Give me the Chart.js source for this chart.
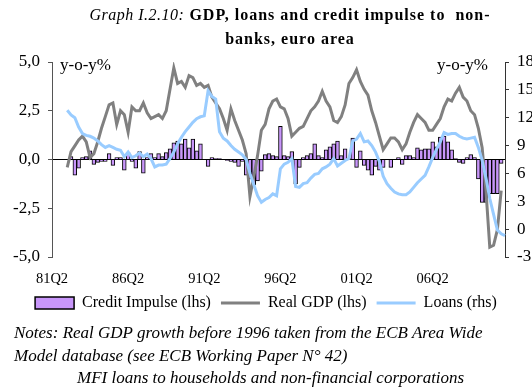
<!DOCTYPE html>
<html>
<head>
<meta charset="utf-8">
<script src="https://cdn.jsdelivr.net/npm/chart.js@4"></script>
<style>
  body { margin: 0; background: #fff; }
  #wrap { position: relative; width: 532px; height: 387px; font-family: "Liberation Serif", "Times New Roman", serif; color: #000; }
  #chart { position: absolute; left: 0; top: 0; }
  .title { position: absolute; left: 40px; top: 3px; width: 500px; text-align: center; font-size: 16px; line-height: 24px; font-weight: bold; letter-spacing: 1px; }
  .title i { font-weight: normal; letter-spacing: 0.5px; }
  .unit { position: absolute; top: 55px; font-size: 17px; }
  .notes { position: absolute; left: 14px; top: 322px; font-size: 17px; line-height: 22.5px; font-style: italic; }
</style>
</head>
<body>
<div id="wrap">
  <canvas id="chart" width="532" height="387"></canvas>
  <div class="title"><i>Graph I.2.10:</i> GDP, loans and credit impulse to&nbsp; non-<br>banks, euro area</div>
  <span class="unit" style="left:60px">y-o-y%</span>
  <span class="unit" style="left:437px">y-o-y%</span>
  <div class="notes">
    Notes: Real GDP growth before 1996 taken from the ECB Area Wide<br>
    Model database (see ECB Working Paper N° 42)<br>
    <span style="margin-left:63px">MFI loans to households and non-financial corporations</span>
  </div>
</div>
<script>
// quarterly categories, first one is 81Q2
const quarters = [];
for (let k = 0; k < 120; k++) {
   const q = (1 + k) % 4 + 1;
   const y = 1981 + Math.floor((1 + k) / 4);
   quarters.push(String(y % 100).padStart(2, '0') + 'Q' + q);
}

// credit impulse (lhs), % points
const creditImpulse = [
   null, null, null, null, null, 0.15, -0.8, -0.45, 0.1, 0.15,
   0.45, -0.25, -0.15, -0.1, -0.1, 0.3, -0.3, 0.1, 0.1, -0.55,
   0.35, -0.1, -0.45, 0.4, -0.7, 0.1, 0.3, 0.1, 0.3, 0.15,
   0.35, 0.55, 0.85, 0.95, 0.8, 1.05, 0.6, 1.05, 0.45, 0.8,
   0.0, -0.35, 0.1, 0.05, 0.05, 0.0, -0.05, -0.1, -0.15, -0.35,
   -0.1, -0.8, -1.0, -1.3, -1.1, -0.6, 0.25, 0.3, 0.2, 0.15,
   1.7, 0.2, 0.15, 0.4, -1.25, -0.4, 0.1, 0.2, 0.3, 0.8,
   0.2, 0.1, 0.5, 0.65, 0.8, 0.95, 0.2, 0.55, 0.05, 1.1,
   -0.4, 0.45, -0.3, -0.55, -0.8, -0.35, -0.55, -0.4, 0.0, -0.4,
   0.0, 0.1, -0.25, 0.2, 0.2, 0.1, 0.6, 0.5, 0.55, 0.55,
   0.9, 0.65, 1.15, 1.2, 0.9, 0.5, 0.05, -0.15, -0.2, 0.1,
   0.25, 0.1, -1.0, -2.2, -2.2, -1.75, -1.75, -1.75, -0.2, null
];

// real GDP growth (lhs), y-o-y %
const realGdp = [
   null, null, null, null, -0.4, 0.4, 0.7, 1.0, 1.2, 0.9,
   0.1, 0.3, 0.9, 1.6, 2.2, 2.8, 2.9, 1.8, 2.5, 2.3,
   1.4, 2.7, 2.5, 2.5, 2.9, 2.4, 2.1, 2.2, 2.3, 2.1,
   2.5, 3.6, 4.7, 3.9, 4.0, 3.7, 4.3, 4.2, 3.8, 3.9,
   3.7, 3.8, 3.2, 2.9, 2.6, 2.1, 1.5, 2.6, 2.0, 1.5,
   1.0, 0.3, -1.9, -0.9, 0.2, 1.5, 1.8, 2.6, 3.0, 3.1,
   2.7, 2.6, 2.1, 1.2, 1.4, 1.6, 1.7, 2.1, 2.5, 2.7,
   3.0, 3.5, 3.0, 2.7, 2.0, 1.9, 2.2, 2.8, 3.9, 4.2,
   4.6, 4.0, 3.6, 3.3, 2.5, 1.9, 1.2, 0.5, 0.8, 1.1,
   1.1, 0.9, 0.5, 0.8, 1.4, 1.9, 2.3, 2.1, 1.9, 1.5,
   1.5, 1.8, 2.1, 2.7, 3.1, 3.0, 3.4, 3.7, 3.2, 3.0,
   2.5, 2.3, 1.6, 0.6, -1.6, -4.5, -4.4, -3.6, -1.6, null
];

// MFI loans (rhs), y-o-y %
const loans = [
   null, null, null, null, 12.8, 12.3, 12.0, 11.0, 10.3, 10.1,
   10.0, 9.8, 9.5, 9.1, 8.8, 9.0, 8.8, 8.6, 8.5, 7.8,
   8.3, 7.7, 7.9, 8.2, 7.8, 8.1, 7.6, 6.7, 6.9, 6.9,
   7.0, 7.6, 8.3, 9.2, 9.9, 10.5, 11.0, 11.5, 11.9, 12.1,
   12.2, 14.9, 14.3, 14.0, 10.5, 9.8, 9.5, 9.0, 8.6, 8.3,
   8.0, 7.5, 6.0, 4.8, 3.6, 2.9, 3.2, 3.4, 3.8, 3.6,
   6.5, 7.0, 7.2, 7.6, 4.6, 4.5, 4.9, 5.0, 5.5, 5.9,
   6.0, 6.5, 6.7, 7.0, 7.6, 6.8, 7.1, 7.4, 7.6, 9.5,
   9.7, 10.3, 9.4, 9.5, 9.0, 8.3, 7.3, 5.7, 4.9, 4.4,
   4.0, 3.8, 3.7, 3.7, 4.0, 4.5, 5.0, 5.4, 5.8, 6.7,
   7.7, 8.6, 9.4, 10.4, 10.2, 10.3, 10.3, 10.0, 9.8, 9.7,
   9.8, 9.9, 8.8, 7.4, 5.5, 3.3, 1.6, -0.1, -0.5, -0.7
];

const xLabelEvery = 20;
const serif = '"Liberation Serif", "Times New Roman", serif';

new Chart(document.getElementById('chart'), {
   data: {
      labels: quarters,
      datasets: [
         {
            type: 'line',
            label: 'Loans (rhs)',
            data: loans,
            yAxisID: 'y2',
            borderColor: '#99ccff',
            borderWidth: 3,
            pointRadius: 0,
            tension: 0,
            order: 1
         },
         {
            type: 'line',
            label: 'Real GDP (lhs)',
            data: realGdp,
            yAxisID: 'y',
            borderColor: '#808080',
            borderWidth: 3,
            pointRadius: 0,
            tension: 0,
            order: 2
         },
         {
            type: 'bar',
            label: 'Credit Impulse (lhs)',
            data: creditImpulse,
            yAxisID: 'y',
            backgroundColor: '#c896fa',
            borderColor: '#000',
            borderWidth: 1,
            barPercentage: 1,
            categoryPercentage: 1,
            order: 3
         }
      ]
   },
   options: {
      responsive: false,
      animation: false,
      layout: { padding: { top: 62, bottom: 66, left: 0, right: 0 } },
      plugins: {
         tooltip: { enabled: false },
         legend: {
            position: 'bottom',
            labels: {
               usePointStyle: true,
               pointStyleWidth: 39,
               boxHeight: 12,
               padding: 10,
               color: '#000',
               font: { family: serif, size: 16 },
               sort: (a, b) => b.datasetIndex - a.datasetIndex,
               generateLabels: chart => {
                  const items = Chart.defaults.plugins.legend.labels.generateLabels(chart);
                  items.forEach(it => {
                     if (it.datasetIndex === 2) {
                        it.pointStyle = 'rect';
                        it.lineWidth = 1.5;
                        it.strokeStyle = '#000';
                     } else {
                        it.pointStyle = 'line';
                        it.lineWidth = 3;
                     }
                  });
                  return items;
               }
            }
         }
      },
      scales: {
         x: {
            type: 'category',
            offset: false,
            grid: { display: false, drawTicks: false },
            border: { display: false },
            afterFit: s => { s.height = 28; },
            ticks: {
               autoSkip: false,
               maxRotation: 0,
               padding: 13,
               color: '#000',
               font: { family: serif, size: 14.5 },
               callback: (v, i) => i % xLabelEvery === 0 ? quarters[i] : null
            }
         },
         y: {
            position: 'left',
            min: -5,
            max: 5,
            afterFit: s => { s.width = 52; },
            afterBuildTicks: s => { s.ticks = [-5, -2.5, 0, 2.5, 5].map(v => ({ value: v })); },
            grid: {
               color: c => c.tick && c.tick.value === 0 ? '#000' : 'rgba(0,0,0,0)',
               tickColor: '#555',
               tickLength: 4,
               lineWidth: 1
            },
            border: { color: '#555', width: 1 },
            ticks: {
               padding: 8,
               color: '#000',
               font: { family: serif, size: 17 },
               callback: v => v.toFixed(1).replace('.', ',')
            }
         },
         y2: {
            position: 'right',
            min: -3,
            max: 18,
            afterFit: s => { s.width = 27; },
            afterBuildTicks: s => { s.ticks = [-3, 0, 3, 6, 9, 12, 15, 18].map(v => ({ value: v })); },
            grid: { drawOnChartArea: false, tickColor: '#333', tickLength: 4 },
            border: { color: '#333', width: 1 },
            ticks: {
               padding: 8,
               color: '#000',
               font: { family: serif, size: 17 },
               callback: v => String(v)
            }
         }
      }
   }
});
</script>
</body>
</html>
